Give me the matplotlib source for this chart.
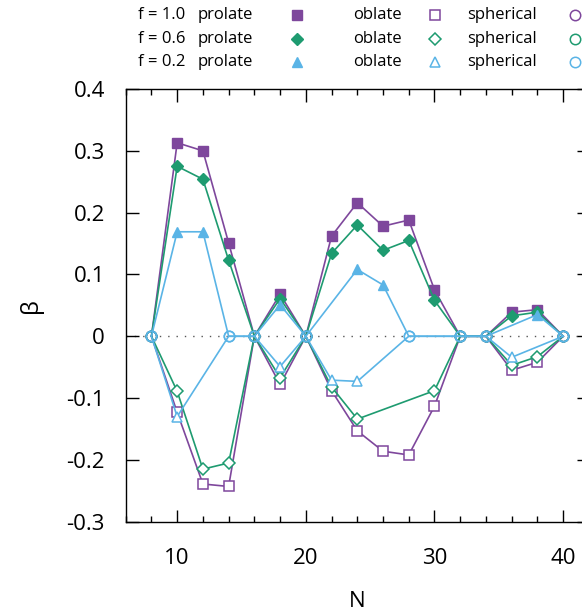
import numpy as np
import matplotlib
matplotlib.use("Agg")
import matplotlib.pyplot as plt
from matplotlib.ticker import MultipleLocator, FuncFormatter

plt.rcParams['font.family'] = ['Open Sans', 'DejaVu Sans']
plt.rcParams['axes.unicode_minus'] = False

nan = np.nan

# particle number
N = [8, 10, 12, 14, 16, 18, 20, 22, 24, 26, 28, 30, 32, 34, 36, 38, 40]

# deformation beta, nan = no solution of that shape
prolate_10 = [0, 0.313, 0.300, 0.151, 0, 0.068, 0, 0.162, 0.216, 0.178, 0.188, 0.075, 0, 0, 0.039, 0.043, 0]
oblate_10 = [0, -0.123, -0.239, -0.243, 0, -0.078, 0, -0.088, -0.153, -0.186, -0.192, -0.113, 0, 0, -0.055, -0.042, 0]
prolate_06 = [0, 0.275, 0.254, 0.123, 0, 0.061, 0, 0.134, 0.180, 0.139, 0.155, 0.058, 0, 0, 0.033, 0.039, 0]
oblate_06 = [0, -0.089, -0.215, -0.205, 0, -0.067, 0, -0.082, -0.134, nan, nan, -0.088, 0, 0, -0.047, -0.033, 0]
prolate_02 = [0, 0.169, 0.169, 0, 0, 0.051, 0, nan, 0.108, 0.083, 0, nan, 0, 0, nan, 0.035, 0]
oblate_02 = [0, -0.130, nan, 0, 0, -0.049, 0, -0.071, -0.073, nan, 0, nan, 0, 0, -0.034, nan, 0]

f_labels = ['f = 1.0', 'f = 0.6', 'f = 0.2']
colors = ['#7e479c', '#1e9b70', '#5ab4e6']
prolate = [prolate_10, prolate_06, prolate_02]
oblate = [oblate_10, oblate_06, oblate_02]
mk_pro = ['s', 'D', '^']
mk_obl = ['s', 'D', '^']
ms = [7, 6.5, 7.5]

fig = plt.figure(figsize=(5.82, 6.16), dpi=100)
ax = fig.add_axes([125.7 / 582, 1 - 521.7 / 616, (588.9 - 125.7) / 582, (521.7 - 89) / 616])

ax.axhline(0, color='#555555', lw=1, ls=(0, (1, 5)), zorder=0)

lw = 1.2
for i in range(3):
    c = colors[i]
    for vals, filled in ((prolate[i], True), (oblate[i], False)):
        n = np.array(N, dtype=float)
        b = np.array(vals, dtype=float)
        ok = ~np.isnan(b)
        n, b = n[ok], b[ok]
        ax.plot(n, b, '-', color=c, lw=lw, zorder=2 + i)
        nz = b != 0
        if filled:
            ax.plot(n[nz], b[nz], ls='none', marker=mk_pro[i], ms=ms[i], color=c,
                    mec=c, zorder=2 + i)
        else:
            ax.plot(n[nz], b[nz], ls='none', marker=mk_obl[i], ms=ms[i], mfc='white',
                    mec=c, mew=1.1, zorder=2 + i)
        ax.plot(n[~nz], b[~nz], ls='none', marker='o', ms=7.5, mfc='none',
                mec=c, mew=1.1, zorder=2 + i)

ax.set_xlim(6, 42)
ax.set_ylim(-0.3, 0.4)
ax.xaxis.set_major_locator(MultipleLocator(10))
ax.xaxis.set_minor_locator(MultipleLocator(2))
ax.yaxis.set_major_locator(MultipleLocator(0.1))
ax.yaxis.set_major_formatter(FuncFormatter(lambda v, p: '%g' % round(v, 2)))
ax.tick_params(which='both', direction='in', top=True, right=True, labelsize=16)
ax.tick_params(which='major', length=9, width=1)
ax.tick_params(which='minor', length=4.5, width=1)
ax.tick_params(axis='x', which='major', pad=19)
ax.tick_params(axis='y', which='major', pad=15)
for s in ax.spines.values():
    s.set_linewidth(1)
ax.set_xlabel('N', fontsize=16, labelpad=16)
ax.set_ylabel('β', fontsize=17, labelpad=17)

# key above the frame
lax = fig.add_axes([0, 0, 1, 1])
lax.set_xlim(0, 582)
lax.set_ylim(616, 0)
lax.axis('off')
rows = [15, 39, 62]
for i in range(3):
    c = colors[i]
    y = rows[i]
    lax.text(138, y, f_labels[i], fontsize=12, ha='left', va='center')
    lax.text(253, y, 'prolate', fontsize=12, ha='right', va='center')
    lax.text(402, y, 'oblate', fontsize=12, ha='right', va='center')
    lax.text(537, y, 'spherical', fontsize=12, ha='right', va='center')
    lax.plot([297], [y], ls='none', marker=mk_pro[i], ms=ms[i], color=c)
    lax.plot([435], [y], ls='none', marker=mk_obl[i], ms=ms[i], mfc='white', mec=c, mew=1.1)
    lax.plot([575], [y], ls='none', marker='o', ms=7.5, mfc='none', mec=c, mew=1.1)

fig.savefig('out.png', dpi=100)
